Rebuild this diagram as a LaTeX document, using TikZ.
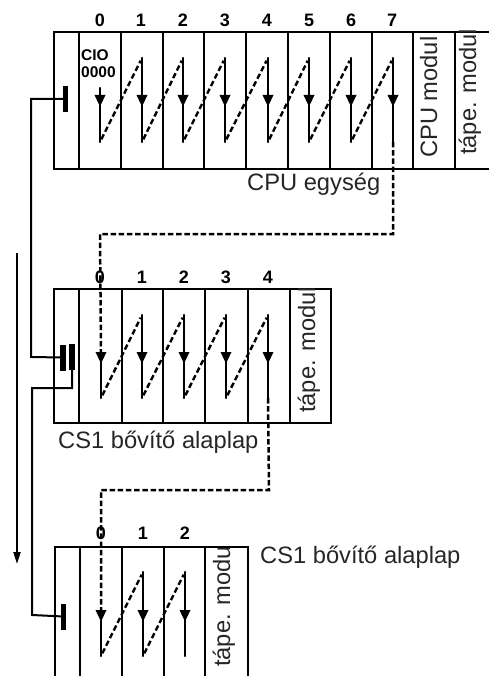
\documentclass[tikz,border=0pt]{standalone}
\usepackage{fontspec}
\setmainfont{Liberation Sans}
\usetikzlibrary{arrows.meta}
\tikzset{
  frame/.style={line width=2.3pt,line cap=rect},
  divider/.style={line width=2pt},
  wire/.style={line width=2pt,line join=miter},
  flow/.style={line width=2.2pt,line cap=round},
  jump/.style={line width=2.5pt,dash pattern=on 5.5pt off 2.7pt},
  hop/.style={line width=2.4pt,dash pattern=on 5.5pt off 3pt},
  digit/.style={font=\fontsize{18}{18}\selectfont\bfseries,inner sep=0pt},
  label/.style={font=\fontsize{23.7}{24}\selectfont,inner sep=0pt,text=black!85},
  vlabel/.style={label,rotate=90,anchor=base west},
  smalltext/.style={font=\fontsize{15.5}{15.5}\selectfont\bfseries,inner sep=0pt,anchor=base west},
  bus/.style={fill=black,draw=none,inner sep=0pt,minimum width=5.5pt,minimum height=26pt}
}
\newcommand{\slot}[5]{% name, x, top, head, bottom
  \coordinate (#1t) at (#2,#3);
  \coordinate (#1h) at (#2,#4);
  \coordinate (#1b) at (#2,#5);
  \draw[flow] (#1t) -- (#1b);
  \fill (#2-5.5,#4) -- (#2+5.5,#4) -- (#2+1,#4+9.5) -- (#2-1,#4+9.5) -- cycle;
}
\begin{document}
\begin{tikzpicture}[x=1pt,y=-1pt]
\useasboundingbox (0,0) rectangle (488,676);
% ---- rack 1
\draw[frame] (488,32) -- (54,32) -- (54,169) -- (488,169);
\foreach \x in {79,121,163,204,246,288,330,372,413,455}
  \draw[divider] (\x,32) -- (\x,169);
\foreach \i/\x in {0/100,1/141,2/183,3/225,4/267,5/309,6/351,7/392}
  \node[digit] (da\i) at (\x,20) {\i};
\slot{a0}{100}{88}{95}{142}
\slot{a1}{142}{58}{95}{142}
\slot{a2}{183}{58}{95}{142}
\slot{a3}{225}{58}{95}{142}
\slot{a4}{268}{58}{95}{142}
\slot{a5}{309}{58}{95}{142}
\slot{a6}{351}{58}{95}{142}
\slot{a7}{393}{58}{95}{142}
\foreach \p/\q in {a0/a1,a1/a2,a2/a3,a3/a4,a4/a5,a5/a6,a6/a7}
  \draw[hop,shorten <=3pt,shorten >=3pt] (\p b) -- (\q t);
\node[smalltext] (cio) at (81,61) {CIO};
\node[smalltext] (cion) at (81,78) {0000};
\node[vlabel] (cpum) at (437,158) {CPU modul};
\node[vlabel] (tapa) at (476,155) {tápe. modul};
\node[label,anchor=base west] (cpue) at (247,190) {CPU egység};
% ---- rack 2
\draw[frame] (54,289) rectangle (331,423);
\foreach \x in {79,122,163,205,248,290}
  \draw[divider] (\x,289) -- (\x,423);
\foreach \i/\x in {0/100,1/142,2/184,3/226,4/268}
  \node[digit] (db\i) at (\x,277) {\i};
\slot{b0}{101}{352}{352}{398}
\slot{b1}{142}{315}{352}{398}
\slot{b2}{184}{315}{352}{398}
\slot{b3}{226}{315}{352}{398}
\slot{b4}{268}{315}{352}{398}
\foreach \p/\q in {b1/b2,b2/b3,b3/b4}
  \draw[hop,shorten <=3pt,shorten >=3pt] (\p b) -- (\q t);
\coordinate (b1up) at (142,315);
\draw[hop,shorten <=3pt,shorten >=3pt] (b0b) -- (b1up);
\node[vlabel] (tapb) at (315,413) {tápe. modul};
\node[label,anchor=base west] (csb) at (58,448) {CS1 bővítő alaplap};
% ---- rack 3
\draw[frame] (55,676) -- (55,547) -- (248,547) -- (248,676);
\foreach \x in {80,122,164,205}
  \draw[divider] (\x,547) -- (\x,676);
\foreach \i/\x in {0/101,1/143,2/185}
  \node[digit] (dc\i) at (\x,533) {\i};
\slot{c0}{101}{610}{610}{656}
\slot{c1}{143}{572}{610}{656}
\slot{c2}{185}{572}{610}{656}
\coordinate (c1up) at (143,572);
\draw[hop,shorten <=3pt,shorten >=3pt] (c0b) -- (c1up);
\draw[hop,shorten <=3pt,shorten >=3pt] (c1b) -- (c2t);
\begin{scope}
  \clip (200,548) rectangle (250,676);
  \node[vlabel] (tapc) at (230,667) {tápe. modul};
\end{scope}
\node[label,anchor=base west] (csc) at (260,563) {CS1 bővítő alaplap};
% ---- jump wiring between racks
\coordinate (j1) at (393,234);
\coordinate (j2) at (100,234);
\coordinate (j3) at (269,490);
\coordinate (j4) at (101,490);
\draw[jump] (a7b) -- (j1) -- (j2) -- (b0h);
\draw[jump] (b4b) -- (j3) -- (j4) -- (c0h);
% ---- bus connectors
\node[bus] (busa) at (65.5,99) {};
\node[bus] (busb) at (62.8,357.5) {};
\node[bus] (busc) at (72,357) {};
\node[bus] (busd) at (63.5,616.5) {};
\coordinate (w1) at (31,99);
\coordinate (w2) at (31,357);
\coordinate (w3) at (32,388);
\coordinate (w4) at (72,388);
\coordinate (w5) at (32,615);
\draw[wire] (busa.center) -- (w1) -- (w2) -- (busb.center);
\draw[wire] (busc.south) -- (w4) -- (w3) -- (w5) -- (busd.center);
% ---- scan direction arrow
\coordinate (s1) at (17,253);
\coordinate (s2) at (17,564);
\draw[line width=2pt,-{Triangle[length=12pt,width=7pt]}] (s1) -- (s2);
\end{tikzpicture}
\end{document}
